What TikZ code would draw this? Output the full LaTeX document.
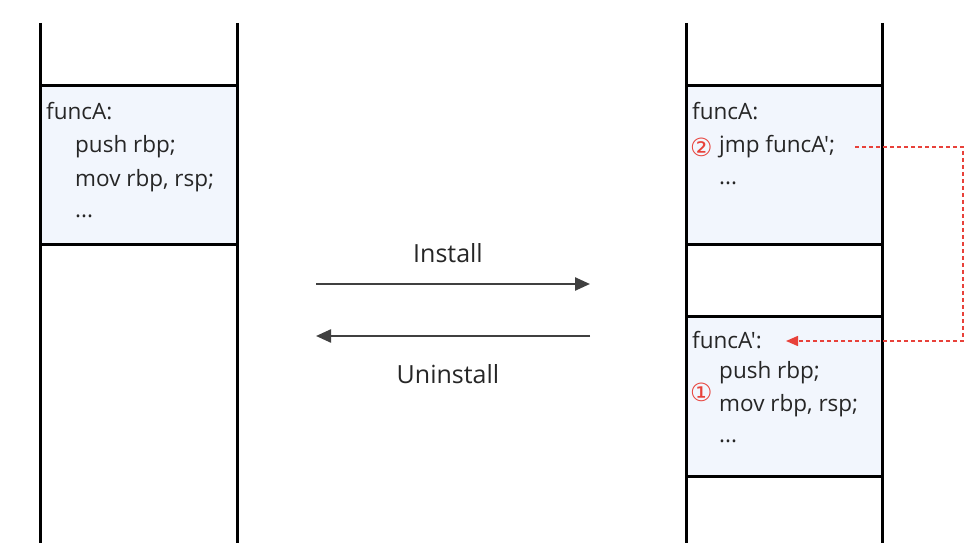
\documentclass[tikz,border=0pt]{standalone}
\usepackage{fontspec}
\setmainfont{Open Sans}
\newfontfamily\codefont{Open Sans}
\newfontfamily\circfont{DejaVu Sans}
\usetikzlibrary{arrows.meta}
\definecolor{boxfill}{HTML}{F2F6FD}
\definecolor{arrgray}{HTML}{404040}
\definecolor{hred}{HTML}{E8413A}
\begin{document}
\begin{tikzpicture}[x=1pt,y=-1pt,
  col/.style={line width=3pt,black},
  code/.style={anchor=west,inner sep=0pt,font=\codefont\fontsize{22.5}{26}\selectfont,text=black!85},
  lbl/.style={inner sep=0pt,font=\fontsize{25}{30}\selectfont,text=black!85},
  circ/.style={anchor=west,inner sep=0pt,font=\circfont\fontsize{25}{28}\selectfont,text=hred},
  mainarr/.style={line width=2.4pt,arrgray,-{Triangle[length=15pt,width=13pt]}},
  redarr/.style={line width=1.5pt,hred,dash pattern=on 4pt off 3pt,-{Triangle[length=12pt,width=10pt]}}]
\useasboundingbox (0,0) rectangle (977,553);
% left column
\fill[boxfill] (40,86) rectangle (237,245);
\draw[col] (40,86) -- (237,86);
\draw[col] (40,245) -- (237,245);
\draw[col] (40,23) -- (40,543);
\draw[col] (237,23) -- (237,543);
\node[code] (la) at (46,111) {funcA:};
\node[code] (lb) at (75,147) {push rbp;};
\node[code] (lc) at (75,181) {mov rbp, rsp;};
\node[code] (ld) at (75,216) {...};
% right column
\fill[boxfill] (686,86) rectangle (882,245);
\fill[boxfill] (686,316) rectangle (882,476);
\draw[col] (686,86) -- (882,86);
\draw[col] (686,245) -- (882,245);
\draw[col] (686,316) -- (882,316);
\draw[col] (686,476) -- (882,476);
\draw[col] (686,23) -- (686,543);
\draw[col] (882,23) -- (882,543);
\node[code] (ra) at (692,111) {funcA:};
\node[circ] (c2) at (690,147) {②};
\node[code] (rb) at (719,147) {jmp funcA';};
\node[code] (rc) at (719,183) {...};
\node[code] (rd) at (692,340) {funcA':};
\node[code] (re) at (719,373) {push rbp;};
\node[circ] (c1) at (690,392) {①};
\node[code] (rf) at (719,406) {mov rbp, rsp;};
\node[code] (rg) at (719,441) {...};
% install / uninstall
\coordinate (iL) at (316,284);
\coordinate (iR) at (590,284);
\coordinate (uL) at (316,336);
\coordinate (uR) at (590,336);
\draw[mainarr] (iL) -- (iR);
\draw[mainarr] (uR) -- (uL);
\node[lbl] (inst) at (448,253) {Install};
\node[lbl] (uninst) at (448,374) {Uninstall};
% red dashed
\coordinate (rs) at (855,147);
\coordinate (rt) at (786,341);
\draw[redarr] (rs) -- (963,147) -- (963,341) -- (rt);
\end{tikzpicture}
\end{document}
